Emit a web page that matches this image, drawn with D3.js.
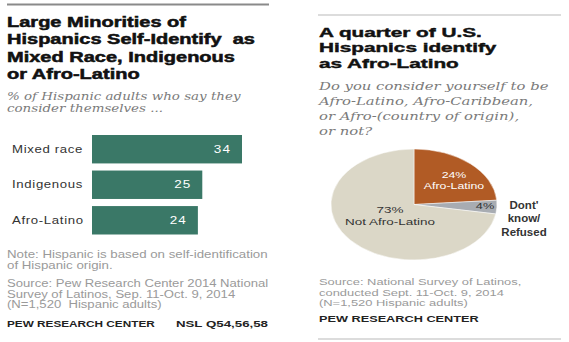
<!DOCTYPE html>
<html>
<head>
<meta charset="utf-8">
<script src="https://cdn.jsdelivr.net/npm/d3@7"></script>
<style>
  body { margin: 0; background: #fff; }
  svg { display: block; font-family: "Liberation Sans", Arial, sans-serif; }
  text { white-space: pre; }
  .serif { font-family: "DejaVu Serif", Georgia, serif; font-style: italic; }
</style>
</head>
<body>
<svg id="chart" width="569" height="342"></svg>
<script>
// left panel: bar chart
var barCategories = ["Mixed race", "Indigenous", "Afro-Latino"];
var barValues = [34, 25, 24];

// right panel: pie chart
var pieLabels = ["Afro-Latino", "Dont' know/ Refused", "Not Afro-Latino"];
var pieValues = [24, 4, 73];

var svg = d3.select("#chart");

// the picture is stretched sideways, so text blocks get a horizontal scale
function block(parent, arr, x, y0, lh, sx) {
  var g = parent.append("g")
      .attr("transform", "translate(" + x + ",0) scale(" + sx + ",1)");
  arr.forEach(function(t, i) {
    g.append("text").attr("x", 0).attr("y", y0 + i * lh).text(t);
  });
  return g;
}

// ---------- left ----------
var left = svg.append("g");

left.append("line")
    .attr("x1", 7).attr("x2", 269).attr("y1", 4.5).attr("y2", 4.5)
    .attr("stroke", "#8a8a8a").attr("stroke-width", 2);

block(left, ["Large Minorities of", "Hispanics Self-Identify  as",
             "Mixed Race, Indigenous", "or Afro-Latino"], 7, 27, 17.4, 1.43)
    .style("font-weight", "bold").style("font-size", "14px")
    .attr("fill", "#111").attr("stroke", "#111").attr("stroke-width", 0.5);

block(left, ["% of Hispanic adults who say they", "consider themselves ..."], 7, 100, 12.3, 1.2)
    .attr("class", "serif").attr("fill", "#7a7a7a").style("font-size", "11.2px");

var x = d3.scaleLinear()
    .domain([0, d3.max(barValues)])
    .range([92, 242]);

var y = d3.scaleBand()
    .domain(barCategories)
    .range([135, 234.5])
    .paddingInner(0.2)
    .paddingOuter(0);

var bar = left.selectAll("g.bar")
    .data(barCategories)
    .enter().append("g")
    .attr("class", "bar");

bar.append("rect")
    .attr("x", x(0))
    .attr("y", function(d) { return y(d); })
    .attr("width", function(d, i) { return x(barValues[i]) - x(0); })
    .attr("height", y.bandwidth())
    .attr("fill", "#3a7867");

bar.append("text")
    .attr("transform", function(d, i) {
      return "translate(" + (x(barValues[i]) - 11) + "," + (y(d) + y.bandwidth() / 2) + ") scale(1.35,1)";
    })
    .attr("dy", ".36em")
    .attr("text-anchor", "end")
    .attr("fill", "#fff")
    .style("font-size", "10px")
    .style("letter-spacing", "0.8px")
    .text(function(d, i) { return barValues[i]; });

bar.append("text")
    .attr("transform", function(d) {
      return "translate(12," + (y(d) + y.bandwidth() / 2) + ") scale(1.32,1)";
    })
    .attr("dy", ".36em")
    .attr("fill", "#333")
    .style("font-size", "10px")
    .style("letter-spacing", "0.5px")
    .text(function(d) { return d; });

block(left, ["Note: Hispanic is based on self-identification", "of Hispanic origin."], 7, 258, 11, 1.33)
    .attr("fill", "#9a9a9a").style("font-size", "10px");
block(left, ["Source: Pew Research Center 2014 National",
             "Survey of Latinos, Sep. 11-Oct. 9, 2014",
             "(N=1,520  Hispanic adults)"], 7, 287, 10.7, 1.31)
    .attr("fill", "#9a9a9a").style("font-size", "10px");

block(left, ["PEW RESEARCH CENTER"], 7, 327, 0, 1.24)
    .attr("fill", "#222").style("font-size", "9.5px").style("font-weight", "bold");
block(left, ["NSL Q54,56,58"], 268, 327, 0, 1.4)
    .attr("fill", "#222").style("font-size", "9.5px").style("font-weight", "bold")
    .attr("text-anchor", "end");

// ---------- right ----------
var right = svg.append("g");

right.append("line")
    .attr("x1", 318).attr("x2", 561).attr("y1", 15).attr("y2", 15)
    .attr("stroke", "#dcdcdc").attr("stroke-width", 2);
right.append("line")
    .attr("x1", 318).attr("x2", 561).attr("y1", 339).attr("y2", 339)
    .attr("stroke", "#dcdcdc").attr("stroke-width", 2);

block(right, ["A quarter of U.S.", "Hispanics identify", "as Afro-Latino"], 319, 37, 15.5, 1.66)
    .style("font-weight", "bold").style("font-size", "12.5px")
    .attr("fill", "#111").attr("stroke", "#111").attr("stroke-width", 0.4);

block(right, ["Do you consider yourself to be", "Afro-Latino, Afro-Caribbean,",
              "or Afro-(country of origin),", "or not?"], 319, 90, 15, 1.29)
    .attr("class", "serif").attr("fill", "#7a7a7a").style("font-size", "11.5px");

var rx = 83, ry = 55.5, cx = 414, cy = 204.5;
var pie = d3.pie().sort(null)(pieValues);
var arc = d3.arc().innerRadius(0).outerRadius(rx);
var pieColors = ["#b15b25", "#a8acb2", "#dbd7c7"];

right.append("g")
    .attr("transform", "translate(" + cx + "," + cy + ") scale(1," + (ry / rx) + ")")
    .selectAll("path")
    .data(pie)
    .enter().append("path")
    .attr("d", arc)
    .attr("fill", function(d, i) { return pieColors[i]; })
    .attr("stroke", "#fff")
    .attr("stroke-width", 0.6);

block(right, [pieValues[0] + "%", pieLabels[0]], 454, 178, 11.5, 1.3)
    .attr("fill", "#fff").style("font-size", "9.5px").attr("text-anchor", "middle");
block(right, [pieValues[1] + "%"], 485, 209, 0, 1.34)
    .attr("fill", "#333").style("font-size", "9.5px").attr("text-anchor", "middle");
block(right, [pieValues[2] + "%", pieLabels[2]], 390, 213, 12, 1.42)
    .attr("fill", "#333").style("font-size", "9.5px").attr("text-anchor", "middle");
block(right, ["Dont'", "know/", "Refused"], 524, 209, 13.5, 1.15)
    .attr("fill", "#333").style("font-size", "10px").style("font-weight", "bold")
    .attr("text-anchor", "middle");

block(right, ["Source: National Survey of Latinos,", "conducted Sept. 11-Oct. 9, 2014",
              "(N=1,520 Hispanic adults)"], 319, 285, 10.6, 1.36)
    .attr("fill", "#9a9a9a").style("font-size", "9.5px");
block(right, ["PEW RESEARCH CENTER"], 319, 322, 0, 1.34)
    .attr("fill", "#222").style("font-size", "9.5px").style("font-weight", "bold");
</script>
</body>
</html>
